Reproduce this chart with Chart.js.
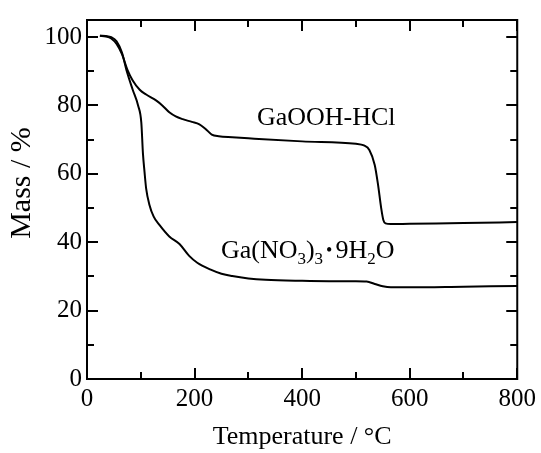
<!DOCTYPE html>
<html>
<head>
  <title>TG curves</title>
  <script src="https://cdn.jsdelivr.net/npm/chart.js"></script>
  <style>
    body { margin: 0; background: #fff; }
    #box { width: 541px; height: 453px; }
  </style>
</head>
<body>
  <div id="box"><canvas id="tgChart" width="541" height="453"></canvas></div>

  <script>
    // GaOOH-HCl
    const tempsA = [24, 35, 45, 55, 65, 75, 85, 98, 110, 129, 140, 153, 165, 178, 195, 209, 220, 232, 245, 270, 300, 400, 500, 515, 525, 535, 541, 547, 551, 555, 565, 600, 700, 800];
    const massA = [100.4, 100.2, 99.6, 98, 95, 90.5, 87.3, 84.6, 83.2, 81.4, 80, 78, 76.8, 76, 75.2, 74.5, 73.2, 71.5, 71, 70.7, 70.4, 69.5, 68.8, 68.3, 67, 62.6, 57, 50, 46.5, 45.5, 45.3, 45.4, 45.6, 45.9];

    // Ga(NO3)3·9H2O
    const tempsB = [24, 35, 45, 55, 65, 74, 85, 95, 101, 104, 107, 110, 116, 124, 135, 153, 172, 190, 205, 230, 250, 270, 300, 332, 400, 450, 500, 520, 535, 550, 565, 600, 700, 800];
    const massB = [100.4, 100.3, 100, 98.8, 95.5, 90, 84.6, 80, 75, 66, 60.5, 55.7, 51, 47.5, 45, 41.7, 39.5, 36, 34, 32, 30.8, 30.1, 29.4, 29, 28.7, 28.6, 28.6, 28.5, 27.8, 27.1, 26.8, 26.8, 27, 27.2];

    const xTicks = [0, 200, 400, 600, 800];
    const yTicks = [0, 20, 40, 60, 80, 100];

    const serif = 'Liberation Serif';

    function pts(xs, ys) {
      return xs.map((x, i) => ({ x: x, y: ys[i] }));
    }

    // frame + inward ticks on all four sides, y title, curve labels
    const framePlugin = {
      id: 'frame',
      afterDatasetsDraw(chart) {
        const ctx = chart.ctx;
        const a = chart.chartArea;
        const xs = chart.scales.x, ys = chart.scales.y;
        ctx.save();
        ctx.strokeStyle = '#000';
        ctx.lineWidth = 2;
        ctx.strokeRect(a.left, a.top, a.right - a.left, a.bottom - a.top);
        ctx.beginPath();
        for (let v = 0; v <= 800; v += 100) {
          const px = Math.round(xs.getPixelForValue(v));
          const len = v % 200 === 0 ? 11 : 7;
          ctx.moveTo(px, a.bottom); ctx.lineTo(px, a.bottom - len);
          ctx.moveTo(px, a.top); ctx.lineTo(px, a.top + len);
        }
        for (let v = 0; v <= 100; v += 10) {
          const py = Math.round(ys.getPixelForValue(v));
          const len = v % 20 === 0 ? 11 : 7;
          ctx.moveTo(a.left, py); ctx.lineTo(a.left + len, py);
          ctx.moveTo(a.right, py); ctx.lineTo(a.right - len, py);
        }
        ctx.stroke();

        ctx.fillStyle = '#000';

        // y axis title, sits a bit above the plot middle in the original
        ctx.save();
        ctx.translate(22, 183);
        ctx.rotate(-Math.PI / 2);
        ctx.textAlign = 'center';
        ctx.textBaseline = 'middle';
        ctx.font = '30px "' + serif + '"';
        ctx.fillText('Mass / %', 0, 0);
        ctx.restore();

        ctx.textBaseline = 'alphabetic';
        ctx.textAlign = 'left';
        const big = '26px "' + serif + '"';
        const small = '17px "' + serif + '"';

        ctx.font = big;
        ctx.fillText('GaOOH-HCl', xs.getPixelForValue(316), ys.getPixelForValue(74.2));

        // Ga(NO3)3・9H2O with subscripts
        let x = xs.getPixelForValue(249);
        const y = ys.getPixelForValue(35.4);
        const parts = [
          ['Ga(NO', big, 0], ['3', small, 6], [')', big, 0], ['3', small, 6],
          ['\u2022', '18px "' + serif + '"', -2], ['9H', big, 0], ['2', small, 6], ['O', big, 0]
        ];
        parts.forEach(p => {
          ctx.font = p[1];
          if (p[0] === '\u2022') x += 3;
          ctx.fillText(p[0], x, y + p[2]);
          x += ctx.measureText(p[0]).width;
          if (p[0] === '\u2022') x += 3;
        });
        ctx.restore();
      }
    };

    new Chart(document.getElementById('tgChart'), {
      type: 'line',
      data: {
        datasets: [
          { label: 'GaOOH-HCl', data: pts(tempsA, massA) },
          { label: 'Ga(NO3)3·9H2O', data: pts(tempsB, massB) }
        ]
      },
      options: {
        responsive: false,
        animation: false,
        events: [],
        layout: { padding: { top: 17, right: 21, left: 0, bottom: 0 } },
        elements: {
          point: { radius: 0 },
          line: { borderColor: '#000', borderWidth: 2, cubicInterpolationMode: 'monotone' }
        },
        plugins: {
          legend: { display: false },
          tooltip: { enabled: false }
        },
        scales: {
          x: {
            type: 'linear',
            min: 0,
            max: 800,
            afterBuildTicks: s => { s.ticks = xTicks.map(v => ({ value: v })); },
            afterFit: s => { s.height = 74; },
            grid: { display: false, drawTicks: false },
            border: { display: false },
            ticks: { color: '#000', padding: 5, maxRotation: 0, font: { family: serif, size: 25 } },
            title: { display: true, text: 'Temperature / °C', color: '#000', padding: 0, font: { family: serif, size: 26 } }
          },
          y: {
            min: 0,
            max: 105,
            afterBuildTicks: s => { s.ticks = yTicks.map(v => ({ value: v })); },
            afterFit: s => { s.width = 87; },
            grid: { display: false, drawTicks: false },
            border: { display: false },
            ticks: { color: '#000', padding: 5, font: { family: serif, size: 25 } }
          }
        }
      },
      plugins: [framePlugin]
    });
  </script>
</body>
</html>
